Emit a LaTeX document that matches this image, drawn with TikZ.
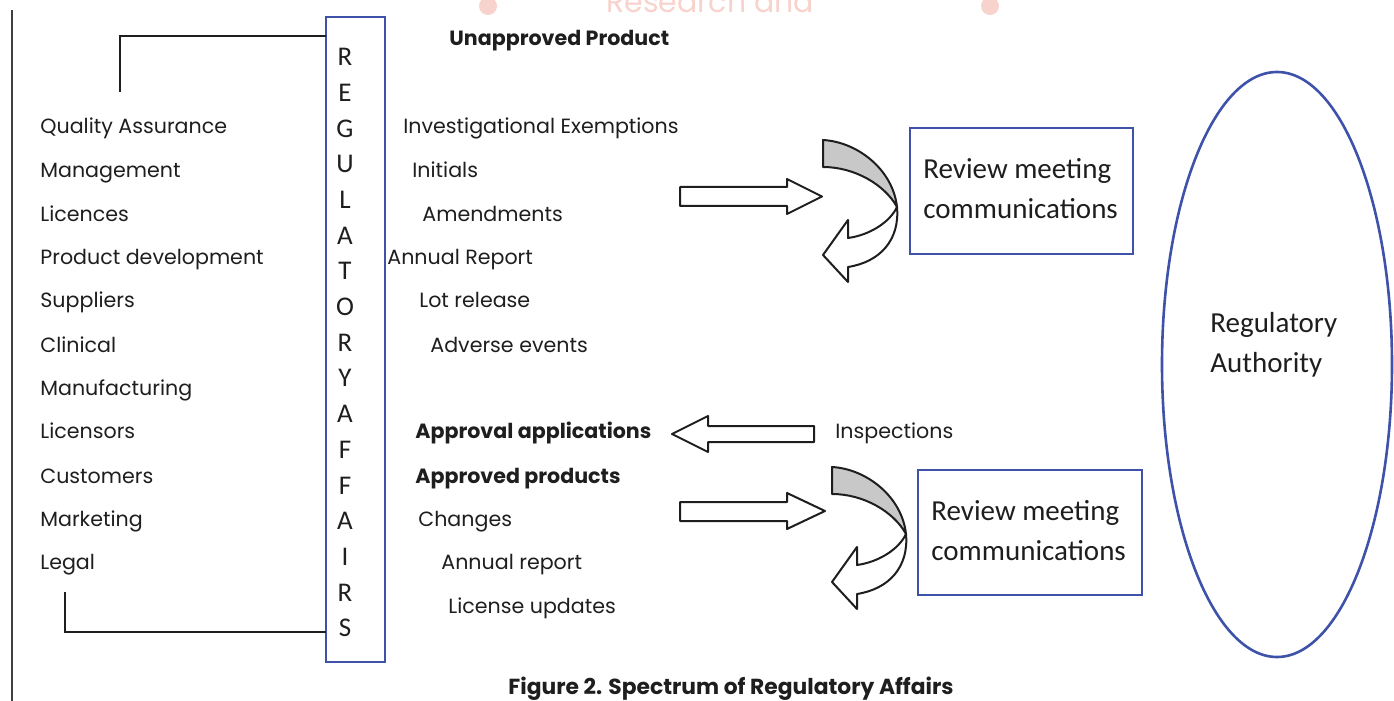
\documentclass[tikz,border=0pt]{standalone}
\usepackage{fontspec}
\usepackage{graphicx}
\setmainfont{Poppins}
\newfontfamily\calfont{Carlito}
\usetikzlibrary{shapes.geometric}
\definecolor{rablue}{RGB}{62,82,170}
\definecolor{wmpink}{RGB}{248,210,205}
\definecolor{arrgray}{RGB}{200,200,200}
\definecolor{inkc}{RGB}{30,30,30}
\begin{document}
\begin{tikzpicture}[x=0.5pt,y=-0.5pt,
 item/.style={anchor=base west, inner sep=0pt, text=inkc, font=\fontsize{10.3}{11}\selectfont},
 bolditem/.style={item, font=\fontsize{10.3}{11}\selectfont\bfseries},
 letter/.style={anchor=center, inner sep=0pt, text=inkc, font=\calfont\fontsize{13.5}{14}\selectfont},
 bracket/.style={line width=1pt, draw=inkc},
 bluebox/.style={draw=rablue, line width=1.3pt},
 revtext/.style={align=left, inner sep=0pt, text=inkc, font=\calfont\fontsize{14.5}{20}\selectfont},
 blockarrow/.style={draw=inkc, line width=1pt, fill=white, line join=round},
 curvarr/.pic={
   \draw[blockarrow, fill=arrgray] (0,0) .. controls (35,2) and (70,30) .. (74,67)
      .. controls (62,45) and (32,27) .. (0,27) -- cycle;
   \draw[blockarrow] (74,67) .. controls (77,100) and (57,122) .. (25,127) -- (25,142)
      -- (0,115) -- (25,80) -- (25,98) .. controls (47,95) and (67,82) .. (74,67) -- cycle;
 }]
\useasboundingbox (0,0) rectangle (1394,701);
% watermark
\node[anchor=base west, inner sep=0pt, text=wmpink, font=\fontsize{15}{16}\selectfont] (wm) at (606,13) {Research and};
\fill[wmpink] (488,6) circle (9);
\fill[wmpink] (990,6) circle (9);
% page rule
\draw[line width=1.1pt, draw=black!75] (12,10) -- (12,701);
% blue box
\node[bluebox, inner sep=0pt, minimum width=29.5pt, minimum height=322.5pt] (ra) at (355.5,339.5) {};
\foreach \l [count=\i from 0] in {R,E,G,U,L,A,T,O,R,Y,A,F,F,A,I,R,S}
  \node[letter] (l\i) at (345,57+35.7*\i) {\l};
% brackets
\coordinate (tb) at (120,92);
\coordinate (rtop) at (326,36);
\coordinate (bb) at (65,592);
\coordinate (rbot) at (326,632);
\draw[bracket] (tb) |- (rtop);
\draw[bracket] (bb) |- (rbot);
% left list
\node[item] (qa) at (40,134) {Quality Assurance};
\node[item] (mg) at (40,177) {Management};
\node[item] (lc) at (40,221) {Licences};
\node[item] (pd) at (40,264) {Product development};
\node[item] (sp) at (40,307) {Suppliers};
\node[item] (cl) at (40,352) {Clinical};
\node[item] (mf) at (40,395) {Manufacturing};
\node[item] (ls) at (40,438) {Licensors};
\node[item] (cu) at (40,483) {Customers};
\node[item] (mk) at (40,526) {Marketing};
\node[item] (lg) at (40,569) {Legal};
% middle list
\node[bolditem] (up) at (449,46) {Unapproved Product};
\node[item] (ie) at (403,134) {Investigational Exemptions};
\node[item] (in) at (412,177) {Initials};
\node[item] (am) at (422,221) {Amendments};
\node[item] (ar) at (387,264) {Annual Report};
\node[item] (lr) at (419,307) {Lot release};
\node[item] (ae) at (430,352) {Adverse events};
\node[bolditem] (aa) at (415,438) {Approval applications};
\node[bolditem] (ap) at (415,483) {Approved products};
\node[item] (ch) at (418,526) {Changes};
\node[item] (ar2) at (441,569) {Annual report};
\node[item] (lu) at (448,613) {License updates};
\node[item] (ins) at (835,438) {Inspections};
% block arrows
\draw[blockarrow] (680,187) -- (787,187) -- (787,179) -- (822,196.5) -- (787,214) -- (787,206) -- (680,206) -- cycle;
\draw[blockarrow] (680,502) -- (787,502) -- (787,493) -- (825,511) -- (787,529) -- (787,521) -- (680,521) -- cycle;
\draw[blockarrow] (814,426) -- (708,426) -- (708,416) -- (672,434) -- (708,452) -- (708,442) -- (814,442) -- cycle;
\pic at (823,140) {curvarr};
\pic at (832,467) {curvarr};
% review boxes
\node[bluebox, minimum width=111.5pt, minimum height=63pt, inner sep=0pt] (rv1) at (1021.5,191) {};
\node[revtext, anchor=west] (rv1t) at (923,189) {Review meeting\\communications};
\node[bluebox, minimum width=112pt, minimum height=62.5pt, inner sep=0pt] (rv2) at (1030,532.5) {};
\node[revtext, anchor=west] (rv2t) at (931,531) {Review meeting\\communications};
% authority
\node[draw=rablue, line width=1.3pt, ellipse, inner sep=0pt, minimum width=115pt, minimum height=292.5pt] (auth) at (1277,364.5) {};
\node[revtext, anchor=west] (autht) at (1210,345) {Regulatory\\Authority};
% caption
\node[anchor=base, inner sep=0pt, text=inkc, font=\fontsize{10.9}{12}\selectfont\bfseries] (cap) at (731,694) {Figure 2. Spectrum of Regulatory Affairs};
\end{tikzpicture}
\end{document}
